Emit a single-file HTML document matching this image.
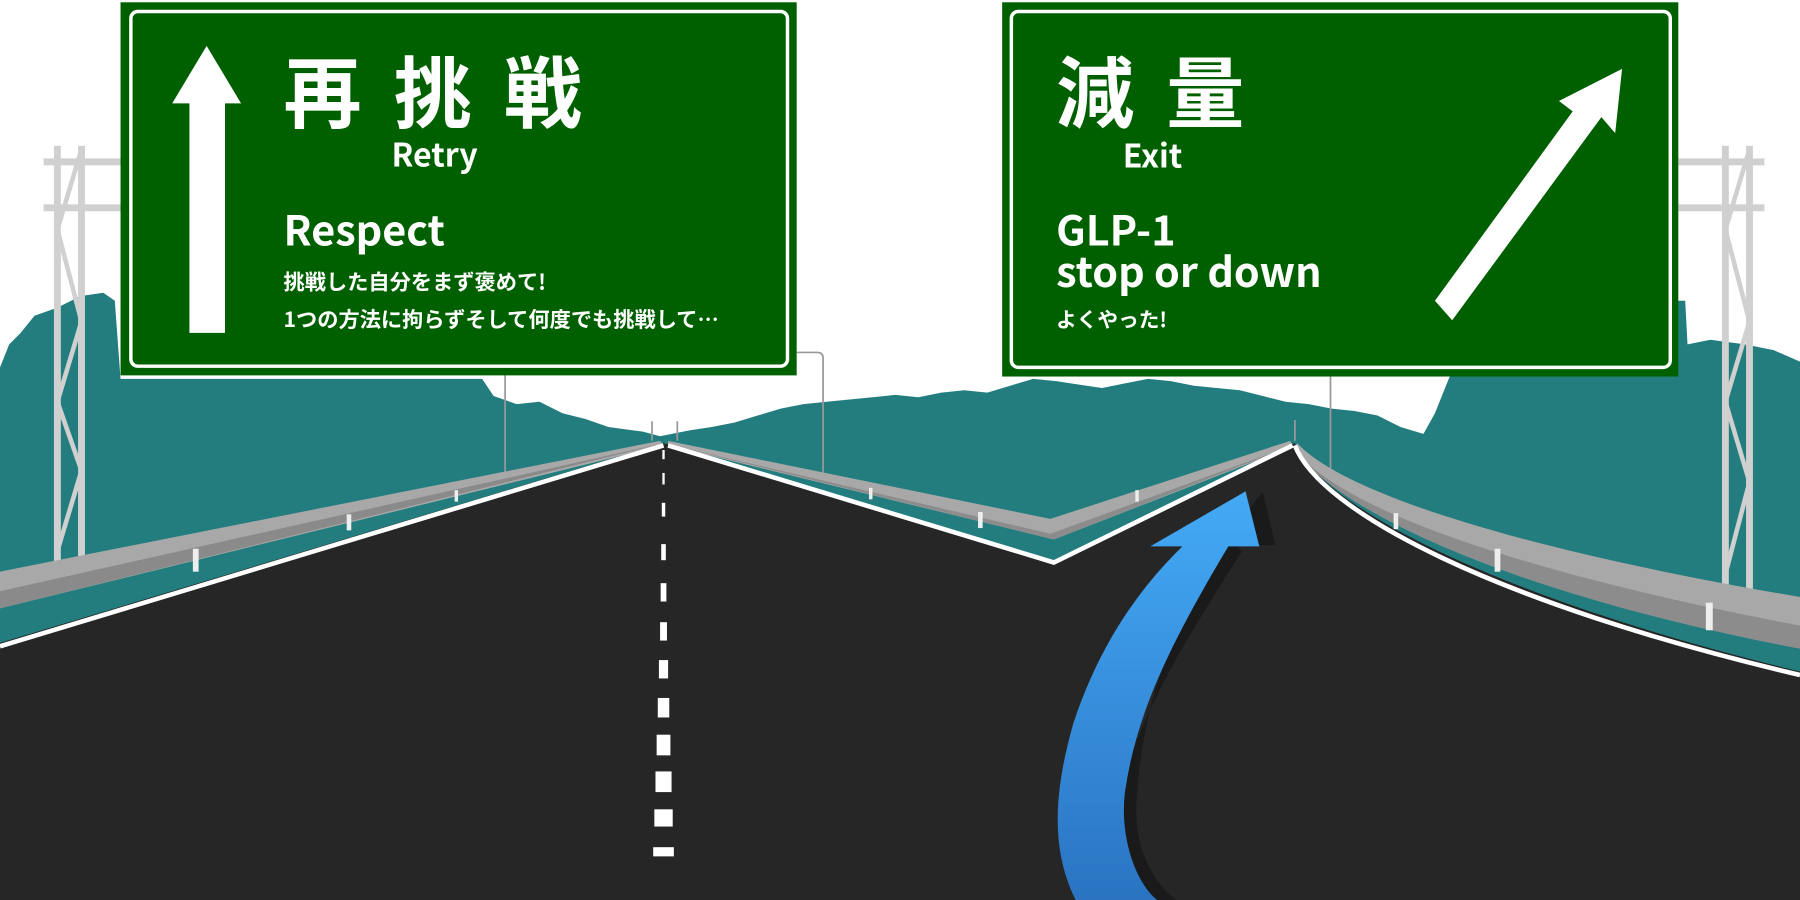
<!DOCTYPE html>
<html><head><meta charset="utf-8"><style>
html,body{margin:0;padding:0;background:#fff;overflow:hidden}
svg{display:block}
text{font-family:"Noto Sans CJK JP","Liberation Sans",sans-serif;fill:#fff;font-weight:bold}
</style></head><body>
<svg width="1800" height="900" viewBox="0 0 1568 784" preserveAspectRatio="none" xmlns="http://www.w3.org/2000/svg">
<defs>
<linearGradient id="bl" x1="0" y1="0" x2="0" y2="1"><stop offset="0" stop-color="#44aaf6"/><stop offset="1" stop-color="#2a74c2"/></linearGradient>
</defs>
<rect width="1568" height="784" fill="#fff"/>
<path fill="#237d7e" d="M0,320 L8,300 L18,290 L30,275 L50,268 L70,258 L90,255 L100,262 L105,330 L420,330 L430,345 L450,352 L470,350 L490,360 L510,365 L530,372 L560,376 L575,380 L600,375 L620,372 L640,368 L660,362 L680,356 L700,352 L720,350 L740,348 L760,346 L780,344 L800,346 L820,342 L840,340 L860,342 L880,336 L900,330 L920,332 L940,335 L960,338 L980,334 L1000,330 L1020,332 L1040,336 L1060,338 L1080,340 L1100,345 L1120,350 L1140,352 L1160,356 L1180,358 L1200,362 L1220,372 L1240,378 L1250,360 L1262,330 L1275,300 L1300,285 L1330,275 L1360,268 L1400,265 L1440,262 L1468,262 L1470,300 L1490,296 L1520,300 L1545,305 L1568,315 L1568,600 L0,600 Z"/>
<g stroke="#999" stroke-width="1.5" fill="none">
<line x1="440" y1="320" x2="440" y2="414"/>
<path d="M717,414 L717,312 Q717,307 712,307 L694,307"/>
<line x1="1159" y1="326" x2="1159" y2="412"/>
<line x1="568" y1="367" x2="568" y2="384"/><line x1="590" y1="367" x2="590" y2="384"/>
<line x1="1128" y1="366" x2="1128" y2="384"/>
</g>
<g fill="#d0d0d0">
<rect x="47" y="127" width="6" height="368"/><rect x="68" y="127" width="6" height="368"/>
<rect x="38" y="138" width="70" height="6"/><rect x="38" y="178" width="70" height="6"/>
<rect x="1500" y="127" width="6" height="390"/><rect x="1521" y="127" width="6" height="390"/>
<rect x="1462" y="138" width="75" height="6"/><rect x="1462" y="178" width="75" height="6"/>
</g>
<g stroke="#d0d0d0" stroke-width="4" fill="none">
<path d="M71,130 L50,200 L71,280 L50,350 L71,410 L50,480"/>
<path d="M1524,130 L1503,200 L1524,280 L1503,350 L1524,420 L1503,500"/>
</g>
<path fill="#262626" d="M0,560 L578,386 L918,488 L1128,386 C1150,440 1300,520 1568,585 L1568,784 L0,784 Z"/>
<path fill="#a8a8a8" d="M0,498 L575,384 L578,388 L0,530 Z"/>
<path fill="#8a8a8a" d="M0,515 L578,386 L0,530 Z"/>
<path fill="#a8a8a8" d="M582,384 L915,452 L1124,384 L1126,389 L918,470 L582,388 Z"/>
<path fill="#8c8c8c" d="M582,387 L915,465 L1126,388 L918,470 Z"/>
<path fill="#a8a8a8" d="M1130,386 C1170,430 1330,480 1568,520 L1568,565 C1330,520 1170,450 1128,392 Z"/>
<path fill="#8c8c8c" d="M1128,392 C1170,445 1330,500 1568,545 L1568,565 C1330,520 1170,450 1128,392 Z"/>
<g fill="#eee"><rect x="168" y="478" width="5" height="20"/><rect x="302" y="448" width="4" height="14"/><rect x="396" y="427" width="3" height="10"/><rect x="852" y="446" width="4" height="14"/><rect x="1302" y="478" width="5" height="20"/><rect x="1486" y="525" width="6" height="24"/><rect x="1214" y="447" width="4" height="14"/><rect x="757" y="425" width="3" height="10"/><rect x="989" y="427" width="3" height="10"/></g>
<g stroke="#fff" stroke-width="4" fill="none">
<path d="M0,563 L578,388"/>
<path d="M582,388 L918,490 L1126,388"/>
<path d="M1128,388 C1150,445 1300,525 1568,588"/>
</g>
<g fill="#fff">
<rect x="577" y="392" width="2" height="8"/><rect x="577" y="412" width="2" height="10"/><rect x="576.5" y="438" width="3" height="12"/><rect x="576" y="474" width="4" height="14"/><rect x="575.5" y="508" width="5" height="16"/><rect x="575" y="542" width="6" height="16"/><rect x="574" y="575" width="8" height="16"/><rect x="573" y="608" width="10" height="17"/><rect x="572" y="640" width="12" height="18"/><rect x="571" y="672" width="14" height="18"/><rect x="570" y="705" width="16" height="15"/><rect x="569" y="738" width="18" height="8"/>
</g>
<path fill="#1a1a1a" d="M960,784 C965,660 1025,570 1082,480 L1077,475 L1111,475 L1100,428 C1030,520 995,600 990,700 C988,740 1005,770 1025,784 Z"/>
<path fill="url(#bl)" d="M937,784 C915,740 918,690 935,630 C955,570 985,520 1030,476 L1002,476 L1085,428 L1097,476 L1070,476 C1020,560 990,620 980,690 C975,730 990,770 1008,784 Z"/>
<rect x="105" y="2" width="589" height="325" fill="#006000"/>
<rect x="114" y="10" width="572" height="309" rx="6" fill="none" stroke="#fff" stroke-width="3"/>
<path fill="#fff" d="M165,290 L196,290 L196,90 L210,90 L180,40 L150,90 L165,90 Z"/>
<text x="247" y="106" font-size="68" letter-spacing="28">再挑戦</text>
<text x="341" y="145" font-size="28">Retry</text>
<text x="247" y="214" font-size="36">Respect</text>
<text x="247" y="252" font-size="18.5">挑戦した自分をまず褒めて!</text>
<text x="247" y="285" font-size="18.5">1つの方法に拘らずそして何度でも挑戦して…</text>
<rect x="873" y="2" width="589" height="326" fill="#006000"/>
<rect x="881" y="10" width="574" height="310" rx="6" fill="none" stroke="#fff" stroke-width="3"/>
<path fill="#fff" d="M1250,262 L1265,279 L1395,102 L1407,116 L1413,60 L1358,88 L1370,97 Z"/>
<text x="920" y="106" font-size="68" letter-spacing="28">減量</text>
<text x="978" y="146" font-size="28">Exit</text>
<text x="920" y="214" font-size="36">GLP-1</text>
<text x="920" y="250" font-size="36">stop or down</text>
<text x="920" y="285" font-size="18">よくやった!</text>
</svg>
</body></html>
